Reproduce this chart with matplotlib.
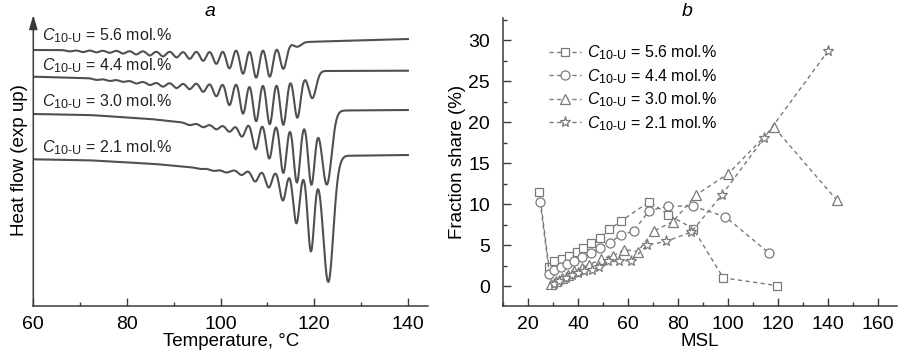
import matplotlib
matplotlib.use("Agg")
import matplotlib.pyplot as plt
import matplotlib._mathtext as mathtext_internal
from matplotlib.ticker import MultipleLocator
import numpy as np

plt.rcParams["font.family"] = ["Liberation Sans", "DejaVu Sans"]
plt.rcParams["mathtext.fontset"] = "custom"
plt.rcParams["mathtext.rm"] = "Liberation Sans"
plt.rcParams["mathtext.it"] = "Liberation Sans:italic"
# subscripts in the source figure are a little larger than mathtext's default
mathtext_internal.SHRINK_FACTOR = 0.78

LABELS = [r"$C_{\mathrm{10\text{-}U}}$ = 5.6 mol.%",
          r"$C_{\mathrm{10\text{-}U}}$ = 4.4 mol.%",
          r"$C_{\mathrm{10\text{-}U}}$ = 3.0 mol.%",
          r"$C_{\mathrm{10\text{-}U}}$ = 2.1 mol.%"]

# ── panel a: DSC traces (arbitrary heat-flow units, exo up) ──────────────────
# baseline anchor points (T, level) and melting dips (T, depth) read per curve
BASE_T = [
    [60, 90, 96, 100, 104, 108, 116, 118, 125, 140],
    [60, 72, 86, 92, 96, 99, 102, 105, 108, 111, 119.5, 121.2, 140],
    [60, 72, 85, 93, 100, 104, 107, 110, 122.8, 124.6, 126, 140],
    [60, 72, 86, 100, 105, 113, 123.5, 125.2, 126.5, 140],
]
BASE_H = [
    [256, 255.7, 256.7, 259, 262, 263.5, 263, 264, 265, 267],
    [229.3, 227.8, 224, 223.8, 224.5, 225.5, 228, 229.5, 231, 232, 232.5, 235, 235.3],
    [192, 191, 187, 183, 181.5, 182, 186.5, 188, 188, 194.5, 195.5, 196],
    [146.7, 145.7, 142, 136, 136, 137.5, 138, 146, 150.2, 151],
]
PEAK_T = [
    [67.8, 70.6, 73.5, 76.3, 79.2, 82.0, 84.9, 87.7, 90.6, 93.4, 96.3, 99.1,
     101.9, 104.8, 107.6, 110.5, 113.4, 116.4],
    [73.5, 76.3, 79.2, 82.0, 84.9, 87.7, 90.6, 93.4, 96.3, 99.1, 101.9, 104.8,
     107.6, 110.5, 113.4, 116.4, 119.6],
    [93.4, 96.3, 99.1, 101.9, 104.6, 107.5, 110.4, 113.4, 116.3, 119.4, 122.7],
    [95.6, 98.5, 101.3, 104.5, 107.4, 110.3, 113.3, 116.2, 119.3, 123.0],
]
PEAK_D = [
    [1.3, 2.0, 2.2, 2.6, 3.3, 4.2, 5.2, 6.1, 7.2, 9.1, 11.7, 16.3, 22.8, 30, 35,
     34, 26, 4],
    [1.3, 1.6, 1.7, 2.6, 3.3, 4.6, 5.9, 7.2, 10.4, 15.9, 27, 37, 46, 50, 51, 44,
     25],
    [2, 3.5, 5, 7.5, 13.5, 30, 40.5, 55, 64.5, 66.5, 67],
    [0.8, 1.5, 2.5, 5, 12, 18.5, 32, 55, 83, 114],
]
PEAK_W = 0.7
LAST_W = [0.8, 0.8, 1.0, 1.05]
TEXT_H = [265.3, 235.3, 199.3, 153.7]

# ── panel b: fraction share vs MSL ───────────────────────────────────────────
MSL = [
    [24.5, 28.3, 30.5, 33.5, 36.5, 39.5, 42, 45, 48.7, 52.5, 57, 68.5, 76, 86,
     98, 119.5],
    [24.8, 28.5, 30.5, 33.0, 35.5, 38.5, 41.5, 45.3, 48.8, 52.7, 57, 62.2, 68.4,
     76, 85.8, 98.8, 116.4],
    [29, 31, 33.5, 36, 38.5, 41.5, 44.5, 49, 54, 58.5, 63.8, 70.2, 77.8, 87.3,
     100, 118.2, 143.5],
    [30.5, 32.5, 35, 37.5, 40, 42.5, 45.5, 48.5, 51.8, 56.5, 61.2, 67.7, 75.3,
     85.3, 97.4, 114.2, 140],
]
SHARE = [
    [11.5, 2.3, 3.0, 3.3, 3.7, 4.2, 4.6, 5.3, 5.9, 6.9, 7.9, 10.3, 8.7, 7.0,
     1.0, 0.05],
    [10.2, 1.5, 1.9, 2.3, 2.7, 3.1, 3.5, 4.0, 4.6, 5.3, 6.2, 6.7, 9.2, 9.75,
     9.75, 8.45, 4.0],
    [0.3, 0.6, 1.0, 1.4, 1.8, 2.2, 2.6, 3.3, 3.7, 4.45, 4.2, 6.7, 7.85, 11.15,
     13.7, 19.4, 10.45],
    [0.2, 0.6, 1.0, 1.3, 1.6, 1.8, 2.0, 2.3, 3.1, 3.1, 3.1, 5.0, 5.45, 6.6,
     11.1, 18.0, 28.7],
]
MARKERS = ["s", "o", "^", "*"]
MSIZE = [6, 6.5, 7, 8]

AX_C = "#3a3a3a"
CURVE_C = "#505050"
PT_C = "#7a7a7a"


def dsc_curve(T, bt, bh, pt, pd, last_w):
    base = np.interp(T, bt, bh)
    dT = T[1] - T[0]
    n = 150
    k = np.exp(-0.5 * (np.arange(-n, n + 1) * dT / 0.4) ** 2)
    k /= k.sum()
    base = np.convolve(np.pad(base, n, mode="edge"), k, mode="valid")
    dips = np.zeros_like(T)
    for i, (t, d) in enumerate(zip(pt, pd)):
        w = last_w if i == len(pt) - 1 else PEAK_W
        dips += d * np.exp(-0.5 * ((T - t) / w) ** 2)
    return base - dips


fig = plt.figure(figsize=(9, 3.57), dpi=100)

# ── a ──
ax1 = fig.add_axes([33.3 / 900, 51 / 357, (428 - 33.3) / 900, 291 / 357])
T = np.linspace(60, 140, 4001)
for i in range(4):
    y = dsc_curve(T, BASE_T[i], BASE_H[i], PEAK_T[i], PEAK_D[i], LAST_W[i])
    ax1.plot(T, y, color=CURVE_C, lw=1.5)
    ax1.text(61.9, TEXT_H[i], LABELS[i], fontsize=11.5, va="baseline",
             ha="left", color="#222222")
ax1.set_xlim(60, 144.3)
ax1.set_ylim(0, 291)
for s in ["top", "right", "left"]:
    ax1.spines[s].set_visible(False)
ax1.spines["bottom"].set_color(AX_C)
ax1.spines["bottom"].set_linewidth(1.1)
ax1.annotate("", xy=(0, 1), xycoords="axes fraction", xytext=(0, 0),
             textcoords="axes fraction",
             arrowprops=dict(arrowstyle="-|>,head_length=0.85,head_width=0.25",
                             color=AX_C, lw=1.1, shrinkA=0, shrinkB=0))
ax1.set_yticks([])
ax1.xaxis.set_major_locator(MultipleLocator(20))
ax1.xaxis.set_minor_locator(MultipleLocator(10))
ax1.tick_params(axis="x", which="major", direction="in", length=5.5, width=1,
                color=AX_C, labelsize=14, pad=7)
ax1.tick_params(axis="x", which="minor", direction="in", length=3, width=1,
                color=AX_C)
ax1.set_xlabel("Temperature, °C", fontsize=13.5, labelpad=0)
ax1.set_ylabel("Heat flow (exp up)", fontsize=13.5, labelpad=4)
fig.text(210 / 900, 1 - 12 / 357, "a", fontsize=14, style="italic",
         ha="center", va="center")

# ── b ──
ax2 = fig.add_axes([502.7 / 900, 51 / 357, (897 - 502.7) / 900, 288 / 357])
handles = []
for i in range(4):
    ln, = ax2.plot(MSL[i], SHARE[i], linestyle=(0, (3, 2.5)), lw=1.0,
                   color=PT_C, marker=MARKERS[i], ms=MSIZE[i],
                   mfc="white", mec=PT_C, mew=0.9, label=LABELS[i])
    handles.append(ln)
ax2.set_xlim(9.8, 167.5)
ax2.set_ylim(-2.44, 32.7)
for s in ["top", "right"]:
    ax2.spines[s].set_visible(False)
for s in ["left", "bottom"]:
    ax2.spines[s].set_color(AX_C)
    ax2.spines[s].set_linewidth(1.1)
ax2.xaxis.set_major_locator(MultipleLocator(20))
ax2.xaxis.set_minor_locator(MultipleLocator(10))
ax2.yaxis.set_major_locator(MultipleLocator(5))
ax2.yaxis.set_minor_locator(MultipleLocator(2.5))
ax2.tick_params(which="major", direction="in", length=5.5, width=1,
                color=AX_C, labelsize=14)
ax2.tick_params(which="minor", direction="in", length=3, width=1, color=AX_C)
ax2.tick_params(axis="x", pad=7)
ax2.tick_params(axis="y", pad=9)
ax2.set_xlabel("MSL", fontsize=13.5, labelpad=0)
ax2.set_ylabel("Fraction share (%)", fontsize=13.5, labelpad=2)
ax2.legend(handles=handles, loc="upper left", bbox_to_anchor=(0.117, 0.912),
           frameon=False, fontsize=11.5, handlelength=2.0, handletextpad=0.4,
           labelspacing=0.3, borderpad=0, borderaxespad=0)
fig.text(686.7 / 900, 1 - 12 / 357, "b", fontsize=14, style="italic",
         ha="center", va="center")

fig.savefig("out.png", dpi=100)
